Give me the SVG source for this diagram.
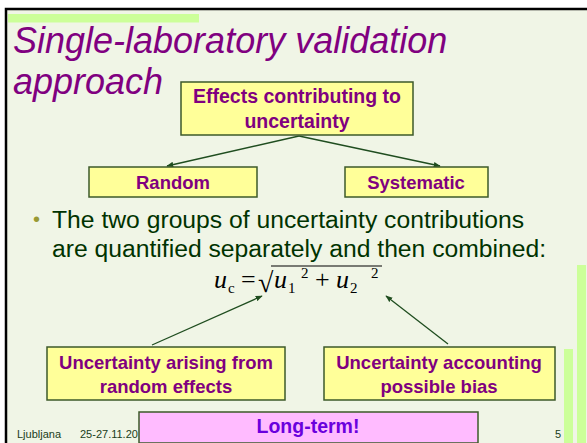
<svg xmlns="http://www.w3.org/2000/svg" width="587" height="443" viewBox="0 0 587 443">
<defs>
<style>
.box{fill:#FFFF99;stroke:#3d5a2a;stroke-width:1.5}
.lbl{font-family:"Liberation Sans",Arial,sans-serif;font-weight:bold;font-size:18.5px;fill:#800080;text-anchor:middle}
.con{stroke:#1f4d1f;stroke-width:1.3;fill:none;marker-end:url(#ah)}
.body{font-family:"Liberation Sans",Arial,sans-serif;font-size:24.7px;fill:#003300}
.foot{font-family:"Liberation Sans",Arial,sans-serif;font-size:11px;fill:#1a3d1a}
.math{font-family:"Liberation Serif","Times New Roman",serif;fill:#000}
</style>
<marker id="ah" viewBox="0 0 10 10" refX="9" refY="5" markerWidth="7" markerHeight="7" markerUnits="userSpaceOnUse" orient="auto">
<path d="M0,1 L10,5 L0,9 Z" fill="#1f4d1f"/>
</marker>
</defs>
<rect x="0" y="0" width="587" height="443" fill="#ffffff"/>
<rect x="6" y="9" width="590" height="450" fill="#F0F5E6" stroke="#000" stroke-width="2.5"/>
<rect x="8" y="14" width="191" height="8.5" fill="#CCFF99"/>
<rect x="564" y="349" width="9" height="94" fill="#CCFF99"/>
<rect x="577" y="265" width="9" height="178" fill="#CCFF99"/>

<g id="title" font-family="'Liberation Sans',Arial,sans-serif" font-style="italic" font-size="36" fill="#800080">
<text x="13" y="53">Single-laboratory validation</text>
<text x="13" y="94">approach</text>
</g>

<g id="connectors">
<line class="con" x1="152" y1="345" x2="262" y2="296"/>
<line class="con" x1="448" y1="344" x2="386" y2="296"/>
<line class="con" x1="299" y1="136" x2="167" y2="166"/>
<line class="con" x1="299" y1="136" x2="440" y2="166"/>
</g>

<g id="effects">
<rect class="box" x="181" y="82" width="232" height="53"/>
<text class="lbl" x="297" y="103" style="font-size:19.5px">Effects contributing to</text>
<text class="lbl" x="297" y="128" style="font-size:19.5px">uncertainty</text>
</g>
<g id="random">
<rect class="box" x="89" y="167" width="168" height="30"/>
<text class="lbl" x="173" y="189">Random</text>
</g>
<g id="systematic">
<rect class="box" x="345" y="167" width="143" height="30"/>
<text class="lbl" x="416" y="189">Systematic</text>
</g>

<g id="bullet">
<text x="33" y="226" font-family="'Liberation Sans',Arial,sans-serif" font-size="20" fill="#999933">•</text>
<text class="body" x="52" y="228">The two groups of uncertainty contributions</text>
<text class="body" x="52" y="257">are quantified separately and then combined:</text>
</g>

<g id="formula">
<text class="math" x="214" y="288" font-size="26" font-style="italic">u</text>
<text class="math" x="228" y="293" font-size="15">c</text>
<text class="math" x="241" y="288" font-size="26">=</text>
<text class="math" x="258" y="292" font-size="28">√</text>
<line x1="271" y1="266" x2="382" y2="266" stroke="#000" stroke-width="1.1"/>
<text class="math" x="274" y="288" font-size="26" font-style="italic">u</text>
<text class="math" x="288" y="293" font-size="15">1</text>
<text class="math" x="301" y="278" font-size="15">2</text>
<text class="math" x="315" y="288" font-size="26">+</text>
<text class="math" x="336" y="288" font-size="26" font-style="italic">u</text>
<text class="math" x="350" y="293" font-size="15">2</text>
<text class="math" x="371" y="278" font-size="15">2</text>
</g>

<g id="randomunc">
<rect class="box" x="47" y="347" width="238" height="53"/>
<text class="lbl" x="166" y="369">Uncertainty arising from</text>
<text class="lbl" x="166" y="393">random effects</text>
</g>
<g id="biasunc">
<rect class="box" x="324" y="347" width="231" height="53"/>
<text class="lbl" x="439" y="369">Uncertainty accounting</text>
<text class="lbl" x="439" y="393">possible bias</text>
</g>

<g id="footer">
<text class="foot" x="17" y="438">Ljubljana</text>
<text class="foot" x="80" y="438">25-27.11.20</text>
<text class="foot" x="555" y="438">5</text>
</g>

<g id="longterm">
<rect x="139" y="412" width="339" height="31" fill="#FFBBFF" stroke="#3d5a2a" stroke-width="1.5"/>
<text x="308" y="433" font-family="'Liberation Sans',Arial,sans-serif" font-weight="bold" font-size="19.5" fill="#6A00DD" text-anchor="middle">Long-term!</text>
</g>
</svg>
